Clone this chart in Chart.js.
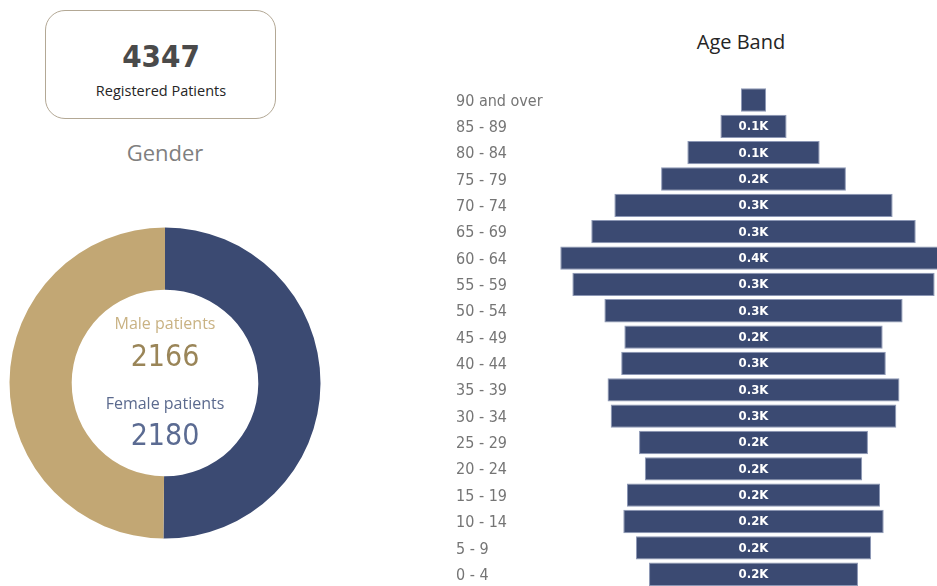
<!DOCTYPE html>
<html>
<head>
<meta charset="utf-8">
<script src="https://cdn.jsdelivr.net/npm/chart.js@4.4.1/dist/chart.umd.min.js"></script>
<style>
  html, body { margin: 0; padding: 0; background: #ffffff; }
  body { width: 937px; height: 586px; overflow: hidden; position: relative; }
  .abs { position: absolute; }
  #card {
    left: 45px; top: 10px; width: 231px; height: 109px;
    border: 1.5px solid #b3a895; border-radius: 20px; box-sizing: border-box;
  }
  #total { left: 45px; top: 36px; width: 232px; text-align: center;
    font-family: "DejaVu Sans Condensed", "DejaVu Sans", sans-serif; font-weight: bold;
    font-size: 31px; line-height: 40px; color: #4a4a4a; }
  #totalLbl { left: 45px; top: 81px; width: 232px; text-align: center;
    font-family: "Open Sans", sans-serif; font-size: 14.5px; line-height: 20px; color: #252525; }
  #gender { left: 65px; top: 137px; width: 200px; text-align: center;
    font-family: "Open Sans", sans-serif; font-size: 22px; line-height: 30px; color: #7f7f7f; }
  #ageTitle { left: 640px; top: 27px; width: 202px; text-align: center;
    font-family: "Open Sans", sans-serif; font-size: 20px; line-height: 30px; color: #252525; }
  .ctxt { width: 200px; left: 65px; text-align: center; }
  .clbl { font-family: "Open Sans", sans-serif; font-size: 16px; line-height: 20px; }
  .cnum { font-family: "DejaVu Sans Condensed", "DejaVu Sans", sans-serif; font-size: 30px; line-height: 36px; }
  #donutWrap { left: 5px; top: 223px; width: 320px; height: 320px; }
  #ageWrap { left: 440px; top: 0px; width: 497px; height: 600px; }
</style>
</head>
<body>
<div id="card" class="abs"></div>
<div id="total" class="abs"></div>
<div id="totalLbl" class="abs">Registered Patients</div>
<div id="gender" class="abs">Gender</div>
<div id="donutWrap" class="abs"><canvas id="donut" width="320" height="320"></canvas></div>
<div id="maleLbl" class="abs ctxt clbl" style="top:313px;color:#c9b283;">Male patients</div>
<div id="maleNum" class="abs ctxt cnum" style="top:338px;color:#9a8558;"></div>
<div id="femLbl" class="abs ctxt clbl" style="top:393px;color:#5b6a8e;">Female patients</div>
<div id="femNum" class="abs ctxt cnum" style="top:417px;color:#5b6b92;"></div>
<div id="ageTitle" class="abs">Age Band</div>
<div id="ageWrap" class="abs"><canvas id="age" width="497" height="600"></canvas></div>

<script>
// ---- data ----
const totalPatients = 4347;
const genderLabels = ["Female patients", "Male patients"];
const genderCounts = [2180, 2166];
const ageBands = ["90 and over", "85 - 89", "80 - 84", "75 - 79", "70 - 74", "65 - 69", "60 - 64",
  "55 - 59", "50 - 54", "45 - 49", "40 - 44", "35 - 39", "30 - 34", "25 - 29", "20 - 24",
  "15 - 19", "10 - 14", "5 - 9", "0 - 4"];
const ageCounts = [24, 63, 126, 176, 265, 309, 368, 345, 284, 246, 252, 278, 272, 218, 207, 241, 248, 224, 199];

const NAVY = "#3b4a72";
const TAN = "#c2a774";

document.getElementById("total").textContent = totalPatients;
document.getElementById("femNum").textContent = genderCounts[0];
document.getElementById("maleNum").textContent = genderCounts[1];

// ---- doughnut ----
new Chart(document.getElementById("donut"), {
  type: "doughnut",
  data: {
    labels: genderLabels,
    datasets: [{ data: genderCounts, backgroundColor: [NAVY, TAN], borderWidth: 0 }]
  },
  options: {
    responsive: false, animation: false, cutout: "60%",
    layout: { padding: 4.5 },
    plugins: { legend: { display: false }, tooltip: { enabled: false } }
  }
});

// ---- funnel (age band) ----
const funnelLabels = {
  id: "funnelLabels",
  afterDatasetsDraw(chart) {
    const ctx = chart.ctx;
    const meta = chart.getDatasetMeta(0);
    ctx.save();
    ctx.font = "bold 13px 'DejaVu Sans Condensed', 'DejaVu Sans', sans-serif";
    ctx.fillStyle = "#ffffff";
    ctx.textAlign = "center";
    ctx.textBaseline = "middle";
    meta.data.forEach((bar, i) => {
      const w = Math.abs(bar.x - bar.base);
      if (w < 40) return;
      const cx = (bar.x + bar.base) / 2;
      ctx.fillText((ageCounts[i] / 1000).toFixed(1) + "K", cx, bar.y + 0.5);
    });
    ctx.restore();
  }
};

const k = 1.05;                 // px per patient
const areaLeft = 556 - 440;     // chart area left inside canvas
const centerX = 753.5 - 440;
const areaRight = 497;
new Chart(document.getElementById("age"), {
  type: "bar",
  data: {
    labels: ageBands,
    datasets: [{
      data: ageCounts.map(v => [-v / 2, v / 2]),
      backgroundColor: NAVY,
      borderColor: "#8c97b5",
      borderWidth: 1,
      borderSkipped: false,
      categoryPercentage: 1,
      barPercentage: 0.885
    }]
  },
  options: {
    indexAxis: "y",
    responsive: false, animation: false,
    layout: { padding: { top: 86.8, bottom: 10.8, left: 16, right: 0 } },
    scales: {
      x: {
        display: false,
        min: -(centerX - areaLeft) / k,
        max: (areaRight - centerX) / k
      },
      y: {
        afterFit(scale) { scale.width = areaLeft - 16; },
        grid: { display: false },
        border: { display: false },
        ticks: {
          crossAlign: "far",
          labelOffset: 1.5,
          color: "#757575",
          font: { family: "'DejaVu Sans Condensed', 'DejaVu Sans', sans-serif", size: 16 }
        }
      }
    },
    plugins: { legend: { display: false }, tooltip: { enabled: false } }
  },
  plugins: [funnelLabels]
});
</script>
</body>
</html>
